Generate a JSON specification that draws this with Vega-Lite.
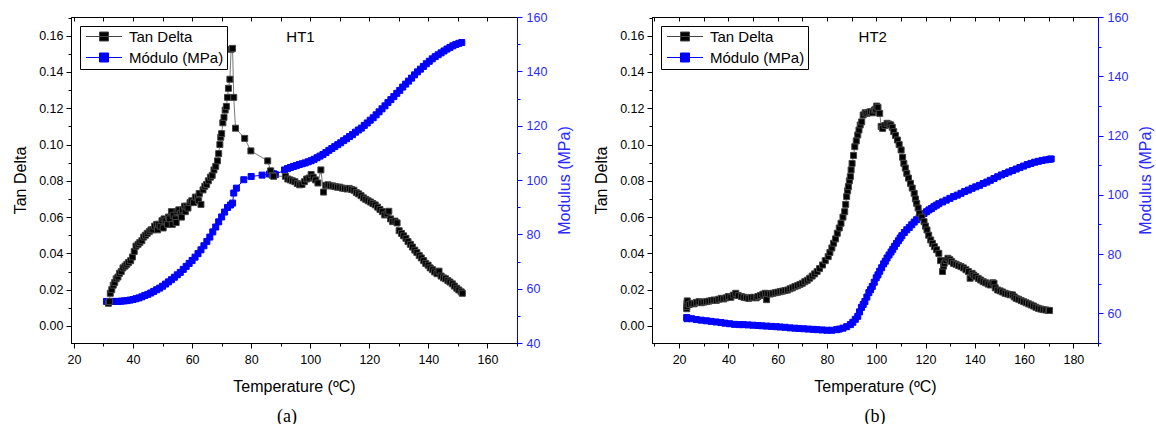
{
  "$schema": "https://vega.github.io/schema/vega-lite/v6.json",
  "padding": {"left": 12, "top": 10, "right": 5, "bottom": 5},
  "background": "white",
  "spacing": 19,
  "config": {
    "font": "Liberation Sans",
    "view": {"stroke": "#000000", "strokeWidth": 1},
    "axis": {
      "labelFont": "Liberation Sans", "titleFont": "Liberation Sans",
      "labelFontSize": 12.5, "titleFontSize": 16, "titleFontWeight": "normal",
      "grid": false, "labelOverlap": false, "labelFlush": false,
      "domainColor": "#000000", "tickColor": "#000000", "labelColor": "#000000", "titleColor": "#000000",
      "tickWidth": 1, "domainWidth": 1
    },
    "legend": {"title": null, "orient": "top-left", "offset": 9, "strokeColor": "#000000", "fillColor": "#ffffff", "padding": 3, "labelFont": "Liberation Sans", "labelFontSize": 15, "labelColor": "#000000", "symbolType": "M-1,0H7M2,-1H4V1H2Z", "symbolSize": 81, "symbolStrokeWidth": 1, "labelOffset": 31, "rowPadding": 5, "labelLimit": 300}
  },
  "resolve": {"scale": {"fill": "independent", "stroke": "independent"}},
  "datasets": {
    "tdA": [
      {"series":"Tan Delta","T":31.7,"value":0.0125},{"series":"Tan Delta","T":32.0,"value":0.0135},{"series":"Tan Delta","T":32.3,"value":0.018},{"series":"Tan Delta","T":32.8,"value":0.020},{"series":"Tan Delta","T":33.3,"value":0.0225},{"series":"Tan Delta","T":33.8,"value":0.024},{"series":"Tan Delta","T":34.3,"value":0.026},{"series":"Tan Delta","T":34.9,"value":0.027},{"series":"Tan Delta","T":35.4,"value":0.029},{"series":"Tan Delta","T":36.0,"value":0.030},{"series":"Tan Delta","T":36.6,"value":0.032},{"series":"Tan Delta","T":37.3,"value":0.033},{"series":"Tan Delta","T":37.9,"value":0.034},{"series":"Tan Delta","T":38.5,"value":0.035},{"series":"Tan Delta","T":39.2,"value":0.036},{"series":"Tan Delta","T":39.8,"value":0.038},{"series":"Tan Delta","T":40.4,"value":0.041},{"series":"Tan Delta","T":41.0,"value":0.044},{"series":"Tan Delta","T":41.7,"value":0.045},{"series":"Tan Delta","T":42.3,"value":0.046},{"series":"Tan Delta","T":43.0,"value":0.047},{"series":"Tan Delta","T":43.6,"value":0.049},{"series":"Tan Delta","T":44.2,"value":0.050},{"series":"Tan Delta","T":44.8,"value":0.051},{"series":"Tan Delta","T":45.5,"value":0.052},{"series":"Tan Delta","T":46.1,"value":0.053},{"series":"Tan Delta","T":46.7,"value":0.053},{"series":"Tan Delta","T":47.3,"value":0.055},{"series":"Tan Delta","T":48.0,"value":0.056},{"series":"Tan Delta","T":48.3,"value":0.053},{"series":"Tan Delta","T":48.6,"value":0.056},{"series":"Tan Delta","T":49.2,"value":0.055},{"series":"Tan Delta","T":49.8,"value":0.058},{"series":"Tan Delta","T":50.2,"value":0.054},{"series":"Tan Delta","T":50.5,"value":0.059},{"series":"Tan Delta","T":51.1,"value":0.058},{"series":"Tan Delta","T":51.7,"value":0.056},{"series":"Tan Delta","T":52.0,"value":0.060},{"series":"Tan Delta","T":52.4,"value":0.059},{"series":"Tan Delta","T":53.0,"value":0.063},{"series":"Tan Delta","T":53.3,"value":0.056},{"series":"Tan Delta","T":53.6,"value":0.061},{"series":"Tan Delta","T":54.3,"value":0.059},{"series":"Tan Delta","T":54.6,"value":0.057},{"series":"Tan Delta","T":54.9,"value":0.063},{"series":"Tan Delta","T":55.5,"value":0.064},{"series":"Tan Delta","T":56.1,"value":0.062},{"series":"Tan Delta","T":56.4,"value":0.060},{"series":"Tan Delta","T":56.8,"value":0.064},{"series":"Tan Delta","T":57.4,"value":0.066},{"series":"Tan Delta","T":57.7,"value":0.063},{"series":"Tan Delta","T":58.0,"value":0.066},{"series":"Tan Delta","T":58.6,"value":0.065},{"series":"Tan Delta","T":59.3,"value":0.068},{"series":"Tan Delta","T":59.9,"value":0.069},{"series":"Tan Delta","T":60.5,"value":0.068},{"series":"Tan Delta","T":61.1,"value":0.071},{"series":"Tan Delta","T":61.8,"value":0.071},{"series":"Tan Delta","T":62.1,"value":0.069},{"series":"Tan Delta","T":62.4,"value":0.073},{"series":"Tan Delta","T":63.0,"value":0.067},{"series":"Tan Delta","T":63.7,"value":0.075},{"series":"Tan Delta","T":64.3,"value":0.077},{"series":"Tan Delta","T":64.9,"value":0.078},{"series":"Tan Delta","T":65.5,"value":0.080},{"series":"Tan Delta","T":66.2,"value":0.082},{"series":"Tan Delta","T":66.8,"value":0.083},{"series":"Tan Delta","T":67.4,"value":0.086},{"series":"Tan Delta","T":68.0,"value":0.088},{"series":"Tan Delta","T":68.6,"value":0.091},{"series":"Tan Delta","T":69.0,"value":0.095},{"series":"Tan Delta","T":69.4,"value":0.100},{"series":"Tan Delta","T":69.7,"value":0.104},{"series":"Tan Delta","T":70.0,"value":0.106},{"series":"Tan Delta","T":70.4,"value":0.112},{"series":"Tan Delta","T":70.8,"value":0.115},{"series":"Tan Delta","T":71.2,"value":0.119},{"series":"Tan Delta","T":71.6,"value":0.121},{"series":"Tan Delta","T":72.0,"value":0.126},{"series":"Tan Delta","T":72.3,"value":0.131},{"series":"Tan Delta","T":72.8,"value":0.136},{"series":"Tan Delta","T":73.2,"value":0.1525},{"series":"Tan Delta","T":73.7,"value":0.153},{"series":"Tan Delta","T":74.1,"value":0.126},{"series":"Tan Delta","T":74.7,"value":0.109},{"series":"Tan Delta","T":77.8,"value":0.1034},{"series":"Tan Delta","T":79.9,"value":0.0965},{"series":"Tan Delta","T":85.6,"value":0.091},{"series":"Tan Delta","T":86.6,"value":0.0855},{"series":"Tan Delta","T":87.2,"value":0.083},{"series":"Tan Delta","T":87.6,"value":0.0825},{"series":"Tan Delta","T":91.6,"value":0.0825},{"series":"Tan Delta","T":92.4,"value":0.081},{"series":"Tan Delta","T":93.2,"value":0.0805},{"series":"Tan Delta","T":94.0,"value":0.080},{"series":"Tan Delta","T":94.8,"value":0.0795},{"series":"Tan Delta","T":95.6,"value":0.0785},{"series":"Tan Delta","T":96.4,"value":0.0778},{"series":"Tan Delta","T":97.2,"value":0.078},{"series":"Tan Delta","T":98.0,"value":0.0795},{"series":"Tan Delta","T":98.8,"value":0.081},{"series":"Tan Delta","T":99.6,"value":0.0815},{"series":"Tan Delta","T":100.3,"value":0.0835},{"series":"Tan Delta","T":101.0,"value":0.082},{"series":"Tan Delta","T":101.8,"value":0.0805},{"series":"Tan Delta","T":102.6,"value":0.0788},{"series":"Tan Delta","T":103.6,"value":0.086},{"series":"Tan Delta","T":104.5,"value":0.0738},{"series":"Tan Delta","T":105.3,"value":0.0775},{"series":"Tan Delta","T":106.0,"value":0.0778},{"series":"Tan Delta","T":106.8,"value":0.0772},{"series":"Tan Delta","T":107.6,"value":0.0772},{"series":"Tan Delta","T":108.4,"value":0.0768},{"series":"Tan Delta","T":109.2,"value":0.0765},{"series":"Tan Delta","T":110.0,"value":0.0765},{"series":"Tan Delta","T":110.8,"value":0.076},{"series":"Tan Delta","T":111.6,"value":0.0758},{"series":"Tan Delta","T":112.4,"value":0.0755},{"series":"Tan Delta","T":113.2,"value":0.0758},{"series":"Tan Delta","T":114.0,"value":0.0752},{"series":"Tan Delta","T":114.8,"value":0.0748},{"series":"Tan Delta","T":115.6,"value":0.0735},{"series":"Tan Delta","T":116.4,"value":0.0728},{"series":"Tan Delta","T":117.2,"value":0.0718},{"series":"Tan Delta","T":118.0,"value":0.0706},{"series":"Tan Delta","T":118.8,"value":0.0698},{"series":"Tan Delta","T":119.6,"value":0.069},{"series":"Tan Delta","T":120.4,"value":0.0683},{"series":"Tan Delta","T":121.2,"value":0.0675},{"series":"Tan Delta","T":122.0,"value":0.0667},{"series":"Tan Delta","T":122.8,"value":0.0655},{"series":"Tan Delta","T":123.6,"value":0.0642},{"series":"Tan Delta","T":124.4,"value":0.063},{"series":"Tan Delta","T":125.2,"value":0.0612},{"series":"Tan Delta","T":126.0,"value":0.0618},{"series":"Tan Delta","T":126.6,"value":0.0632},{"series":"Tan Delta","T":127.2,"value":0.059},{"series":"Tan Delta","T":127.9,"value":0.0575},{"series":"Tan Delta","T":128.7,"value":0.0578},{"series":"Tan Delta","T":129.4,"value":0.0568},{"series":"Tan Delta","T":130.1,"value":0.0525},{"series":"Tan Delta","T":130.9,"value":0.051},{"series":"Tan Delta","T":131.6,"value":0.0497},{"series":"Tan Delta","T":132.4,"value":0.0483},{"series":"Tan Delta","T":133.1,"value":0.0465},{"series":"Tan Delta","T":133.9,"value":0.045},{"series":"Tan Delta","T":134.6,"value":0.0435},{"series":"Tan Delta","T":135.4,"value":0.0418},{"series":"Tan Delta","T":136.1,"value":0.0405},{"series":"Tan Delta","T":136.9,"value":0.0388},{"series":"Tan Delta","T":137.6,"value":0.0375},{"series":"Tan Delta","T":138.4,"value":0.036},{"series":"Tan Delta","T":139.1,"value":0.0345},{"series":"Tan Delta","T":139.9,"value":0.0335},{"series":"Tan Delta","T":140.6,"value":0.032},{"series":"Tan Delta","T":141.4,"value":0.031},{"series":"Tan Delta","T":142.1,"value":0.0298},{"series":"Tan Delta","T":142.9,"value":0.0288},{"series":"Tan Delta","T":143.6,"value":0.0302},{"series":"Tan Delta","T":144.3,"value":0.0275},{"series":"Tan Delta","T":145.1,"value":0.0265},{"series":"Tan Delta","T":145.8,"value":0.026},{"series":"Tan Delta","T":146.6,"value":0.025},{"series":"Tan Delta","T":147.3,"value":0.0242},{"series":"Tan Delta","T":148.1,"value":0.0232},{"series":"Tan Delta","T":148.8,"value":0.022},{"series":"Tan Delta","T":149.6,"value":0.0208},{"series":"Tan Delta","T":150.3,"value":0.0198},{"series":"Tan Delta","T":151.1,"value":0.0188},{"series":"Tan Delta","T":151.5,"value":0.018}
    ],
    "modA": [
      {"series":"Módulo (MPa)","T":31.0,"value":55.3},{"series":"Módulo (MPa)","T":32.0,"value":55.3},{"series":"Módulo (MPa)","T":33.0,"value":55.3},{"series":"Módulo (MPa)","T":34.0,"value":55.3},{"series":"Módulo (MPa)","T":35.0,"value":55.3},{"series":"Módulo (MPa)","T":36.0,"value":55.4},{"series":"Módulo (MPa)","T":37.0,"value":55.5},{"series":"Módulo (MPa)","T":38.0,"value":55.6},{"series":"Módulo (MPa)","T":39.0,"value":55.8},{"series":"Módulo (MPa)","T":40.0,"value":56.0},{"series":"Módulo (MPa)","T":41.0,"value":56.3},{"series":"Módulo (MPa)","T":42.0,"value":56.6},{"series":"Módulo (MPa)","T":43.0,"value":57.0},{"series":"Módulo (MPa)","T":44.0,"value":57.5},{"series":"Módulo (MPa)","T":45.0,"value":57.9},{"series":"Módulo (MPa)","T":46.0,"value":58.4},{"series":"Módulo (MPa)","T":47.0,"value":59.0},{"series":"Módulo (MPa)","T":48.0,"value":59.6},{"series":"Módulo (MPa)","T":49.0,"value":60.2},{"series":"Módulo (MPa)","T":50.0,"value":60.9},{"series":"Módulo (MPa)","T":51.0,"value":61.7},{"series":"Módulo (MPa)","T":52.0,"value":62.5},{"series":"Módulo (MPa)","T":53.0,"value":63.3},{"series":"Módulo (MPa)","T":54.0,"value":64.2},{"series":"Módulo (MPa)","T":55.0,"value":65.1},{"series":"Módulo (MPa)","T":56.0,"value":66.0},{"series":"Módulo (MPa)","T":57.0,"value":67.1},{"series":"Módulo (MPa)","T":58.0,"value":68.2},{"series":"Módulo (MPa)","T":59.0,"value":69.3},{"series":"Módulo (MPa)","T":60.0,"value":70.4},{"series":"Módulo (MPa)","T":61.0,"value":71.6},{"series":"Módulo (MPa)","T":62.0,"value":72.9},{"series":"Módulo (MPa)","T":63.0,"value":74.3},{"series":"Módulo (MPa)","T":64.0,"value":75.8},{"series":"Módulo (MPa)","T":65.0,"value":77.4},{"series":"Módulo (MPa)","T":66.0,"value":79.0},{"series":"Módulo (MPa)","T":67.0,"value":80.9},{"series":"Módulo (MPa)","T":68.0,"value":82.7},{"series":"Módulo (MPa)","T":69.0,"value":84.6},{"series":"Módulo (MPa)","T":70.0,"value":86.4},{"series":"Módulo (MPa)","T":71.0,"value":88.2},{"series":"Módulo (MPa)","T":72.0,"value":89.9},{"series":"Módulo (MPa)","T":73.0,"value":90.8},{"series":"Módulo (MPa)","T":73.7,"value":91.5},{"series":"Módulo (MPa)","T":74.1,"value":95.2},{"series":"Módulo (MPa)","T":75.0,"value":97.0},{"series":"Módulo (MPa)","T":77.5,"value":100.1},{"series":"Módulo (MPa)","T":80.0,"value":101.3},{"series":"Módulo (MPa)","T":83.7,"value":101.8},{"series":"Módulo (MPa)","T":86.2,"value":102.2},{"series":"Módulo (MPa)","T":86.9,"value":102.4},{"series":"Módulo (MPa)","T":87.6,"value":102.3},{"series":"Módulo (MPa)","T":88.2,"value":102.0},{"series":"Módulo (MPa)","T":91.3,"value":103.7},{"series":"Módulo (MPa)","T":92.3,"value":104.2},{"series":"Módulo (MPa)","T":93.3,"value":104.6},{"series":"Módulo (MPa)","T":94.3,"value":105.0},{"series":"Módulo (MPa)","T":95.3,"value":105.3},{"series":"Módulo (MPa)","T":96.3,"value":105.7},{"series":"Módulo (MPa)","T":97.3,"value":106.0},{"series":"Módulo (MPa)","T":98.3,"value":106.3},{"series":"Módulo (MPa)","T":99.3,"value":106.7},{"series":"Módulo (MPa)","T":100.3,"value":107.1},{"series":"Módulo (MPa)","T":101.3,"value":107.6},{"series":"Módulo (MPa)","T":102.3,"value":108.2},{"series":"Módulo (MPa)","T":103.3,"value":108.8},{"series":"Módulo (MPa)","T":104.3,"value":109.4},{"series":"Módulo (MPa)","T":105.3,"value":110.1},{"series":"Módulo (MPa)","T":106.3,"value":110.9},{"series":"Módulo (MPa)","T":107.3,"value":111.6},{"series":"Módulo (MPa)","T":108.3,"value":112.3},{"series":"Módulo (MPa)","T":109.3,"value":113.0},{"series":"Módulo (MPa)","T":110.3,"value":113.7},{"series":"Módulo (MPa)","T":111.3,"value":114.5},{"series":"Módulo (MPa)","T":112.3,"value":115.2},{"series":"Módulo (MPa)","T":113.3,"value":116.0},{"series":"Módulo (MPa)","T":114.3,"value":116.7},{"series":"Módulo (MPa)","T":115.3,"value":117.6},{"series":"Módulo (MPa)","T":116.3,"value":118.4},{"series":"Módulo (MPa)","T":117.3,"value":119.1},{"series":"Módulo (MPa)","T":118.3,"value":120.1},{"series":"Módulo (MPa)","T":119.3,"value":121.0},{"series":"Módulo (MPa)","T":120.3,"value":122.0},{"series":"Módulo (MPa)","T":121.3,"value":122.9},{"series":"Módulo (MPa)","T":122.3,"value":124.0},{"series":"Módulo (MPa)","T":123.3,"value":125.1},{"series":"Módulo (MPa)","T":124.3,"value":126.2},{"series":"Módulo (MPa)","T":125.3,"value":127.3},{"series":"Módulo (MPa)","T":126.3,"value":128.5},{"series":"Módulo (MPa)","T":127.3,"value":129.6},{"series":"Módulo (MPa)","T":128.3,"value":130.7},{"series":"Módulo (MPa)","T":129.3,"value":131.9},{"series":"Módulo (MPa)","T":130.3,"value":133.0},{"series":"Módulo (MPa)","T":131.3,"value":134.2},{"series":"Módulo (MPa)","T":132.3,"value":135.3},{"series":"Módulo (MPa)","T":133.3,"value":136.4},{"series":"Módulo (MPa)","T":134.3,"value":137.5},{"series":"Módulo (MPa)","T":135.3,"value":138.7},{"series":"Módulo (MPa)","T":136.3,"value":139.8},{"series":"Módulo (MPa)","T":137.3,"value":140.8},{"series":"Módulo (MPa)","T":138.3,"value":141.8},{"series":"Módulo (MPa)","T":139.3,"value":142.8},{"series":"Módulo (MPa)","T":140.3,"value":143.7},{"series":"Módulo (MPa)","T":141.3,"value":144.6},{"series":"Módulo (MPa)","T":142.3,"value":145.4},{"series":"Módulo (MPa)","T":143.3,"value":146.1},{"series":"Módulo (MPa)","T":144.3,"value":146.8},{"series":"Módulo (MPa)","T":145.3,"value":147.5},{"series":"Módulo (MPa)","T":146.3,"value":148.2},{"series":"Módulo (MPa)","T":147.3,"value":148.8},{"series":"Módulo (MPa)","T":148.3,"value":149.4},{"series":"Módulo (MPa)","T":149.3,"value":149.9},{"series":"Módulo (MPa)","T":150.3,"value":150.3},{"series":"Módulo (MPa)","T":151.3,"value":150.6}
    ],
    "tdB": [
      {"series":"Tan Delta","T":23.1,"value":0.0095},{"series":"Tan Delta","T":23.1,"value":0.0107},{"series":"Tan Delta","T":23.2,"value":0.0125},{"series":"Tan Delta","T":23.3,"value":0.0138},{"series":"Tan Delta","T":24.1,"value":0.0118},{"series":"Tan Delta","T":25.1,"value":0.0125},{"series":"Tan Delta","T":26.1,"value":0.0122},{"series":"Tan Delta","T":27.1,"value":0.013},{"series":"Tan Delta","T":28.1,"value":0.0134},{"series":"Tan Delta","T":29.1,"value":0.0128},{"series":"Tan Delta","T":30.1,"value":0.0132},{"series":"Tan Delta","T":31.1,"value":0.0134},{"series":"Tan Delta","T":32.1,"value":0.0137},{"series":"Tan Delta","T":33.1,"value":0.014},{"series":"Tan Delta","T":34.1,"value":0.0143},{"series":"Tan Delta","T":35.1,"value":0.0141},{"series":"Tan Delta","T":36.1,"value":0.0147},{"series":"Tan Delta","T":37.1,"value":0.0152},{"series":"Tan Delta","T":38.1,"value":0.0149},{"series":"Tan Delta","T":39.1,"value":0.0155},{"series":"Tan Delta","T":40.0,"value":0.0162},{"series":"Tan Delta","T":41.0,"value":0.0158},{"series":"Tan Delta","T":42.0,"value":0.017},{"series":"Tan Delta","T":43.0,"value":0.018},{"series":"Tan Delta","T":44.0,"value":0.0168},{"series":"Tan Delta","T":45.3,"value":0.0162},{"series":"Tan Delta","T":46.3,"value":0.0158},{"series":"Tan Delta","T":47.3,"value":0.0155},{"series":"Tan Delta","T":48.3,"value":0.0152},{"series":"Tan Delta","T":49.3,"value":0.0156},{"series":"Tan Delta","T":50.3,"value":0.0158},{"series":"Tan Delta","T":51.3,"value":0.0155},{"series":"Tan Delta","T":52.0,"value":0.0162},{"series":"Tan Delta","T":53.0,"value":0.0168},{"series":"Tan Delta","T":54.0,"value":0.0175},{"series":"Tan Delta","T":55.0,"value":0.018},{"series":"Tan Delta","T":55.5,"value":0.0145},{"series":"Tan Delta","T":56.0,"value":0.0178},{"series":"Tan Delta","T":57.0,"value":0.0176},{"series":"Tan Delta","T":58.0,"value":0.018},{"series":"Tan Delta","T":59.0,"value":0.0183},{"series":"Tan Delta","T":60.0,"value":0.0186},{"series":"Tan Delta","T":61.0,"value":0.0189},{"series":"Tan Delta","T":62.0,"value":0.0192},{"series":"Tan Delta","T":63.0,"value":0.0195},{"series":"Tan Delta","T":64.0,"value":0.0198},{"series":"Tan Delta","T":65.0,"value":0.0205},{"series":"Tan Delta","T":66.0,"value":0.021},{"series":"Tan Delta","T":67.0,"value":0.0217},{"series":"Tan Delta","T":68.0,"value":0.0222},{"series":"Tan Delta","T":69.0,"value":0.0228},{"series":"Tan Delta","T":70.0,"value":0.0235},{"series":"Tan Delta","T":71.0,"value":0.0244},{"series":"Tan Delta","T":72.0,"value":0.0252},{"series":"Tan Delta","T":73.0,"value":0.0263},{"series":"Tan Delta","T":74.0,"value":0.0275},{"series":"Tan Delta","T":75.0,"value":0.0287},{"series":"Tan Delta","T":76.0,"value":0.030},{"series":"Tan Delta","T":77.0,"value":0.0316},{"series":"Tan Delta","T":78.2,"value":0.0336},{"series":"Tan Delta","T":79.3,"value":0.036},{"series":"Tan Delta","T":80.5,"value":0.0382},{"series":"Tan Delta","T":81.2,"value":0.0405},{"series":"Tan Delta","T":82.0,"value":0.043},{"series":"Tan Delta","T":82.7,"value":0.0456},{"series":"Tan Delta","T":83.5,"value":0.048},{"series":"Tan Delta","T":84.2,"value":0.0511},{"series":"Tan Delta","T":85.0,"value":0.054},{"series":"Tan Delta","T":85.7,"value":0.0566},{"series":"Tan Delta","T":86.5,"value":0.060},{"series":"Tan Delta","T":87.2,"value":0.063},{"series":"Tan Delta","T":87.6,"value":0.067},{"series":"Tan Delta","T":88.0,"value":0.0713},{"series":"Tan Delta","T":88.4,"value":0.0745},{"series":"Tan Delta","T":88.7,"value":0.0768},{"series":"Tan Delta","T":89.1,"value":0.080},{"series":"Tan Delta","T":89.5,"value":0.0823},{"series":"Tan Delta","T":89.8,"value":0.086},{"series":"Tan Delta","T":90.2,"value":0.0896},{"series":"Tan Delta","T":90.8,"value":0.094},{"series":"Tan Delta","T":91.3,"value":0.0988},{"series":"Tan Delta","T":91.9,"value":0.102},{"series":"Tan Delta","T":92.5,"value":0.1053},{"series":"Tan Delta","T":93.0,"value":0.108},{"series":"Tan Delta","T":93.5,"value":0.1108},{"series":"Tan Delta","T":94.1,"value":0.1125},{"series":"Tan Delta","T":94.7,"value":0.1163},{"series":"Tan Delta","T":95.5,"value":0.1175},{"series":"Tan Delta","T":96.2,"value":0.1172},{"series":"Tan Delta","T":97.0,"value":0.1178},{"series":"Tan Delta","T":97.7,"value":0.1181},{"series":"Tan Delta","T":98.5,"value":0.1175},{"series":"Tan Delta","T":99.2,"value":0.119},{"series":"Tan Delta","T":99.7,"value":0.1195},{"series":"Tan Delta","T":100.2,"value":0.1212},{"series":"Tan Delta","T":100.7,"value":0.1205},{"series":"Tan Delta","T":101.4,"value":0.1172},{"series":"Tan Delta","T":102.0,"value":0.110},{"series":"Tan Delta","T":102.6,"value":0.1089},{"series":"Tan Delta","T":103.5,"value":0.1105},{"series":"Tan Delta","T":104.4,"value":0.1117},{"series":"Tan Delta","T":105.2,"value":0.1112},{"series":"Tan Delta","T":105.9,"value":0.1108},{"series":"Tan Delta","T":106.5,"value":0.1095},{"series":"Tan Delta","T":107.1,"value":0.1071},{"series":"Tan Delta","T":107.8,"value":0.105},{"series":"Tan Delta","T":108.6,"value":0.1025},{"series":"Tan Delta","T":109.3,"value":0.100},{"series":"Tan Delta","T":110.1,"value":0.097},{"series":"Tan Delta","T":110.7,"value":0.093},{"series":"Tan Delta","T":111.2,"value":0.0896},{"series":"Tan Delta","T":111.8,"value":0.087},{"series":"Tan Delta","T":112.4,"value":0.0841},{"series":"Tan Delta","T":113.1,"value":0.0815},{"series":"Tan Delta","T":113.9,"value":0.0786},{"series":"Tan Delta","T":114.6,"value":0.076},{"series":"Tan Delta","T":115.4,"value":0.0731},{"series":"Tan Delta","T":115.9,"value":0.070},{"series":"Tan Delta","T":116.4,"value":0.0676},{"series":"Tan Delta","T":117.0,"value":0.065},{"series":"Tan Delta","T":117.6,"value":0.0621},{"series":"Tan Delta","T":118.5,"value":0.060},{"series":"Tan Delta","T":119.4,"value":0.0575},{"series":"Tan Delta","T":120.0,"value":0.055},{"series":"Tan Delta","T":120.6,"value":0.0529},{"series":"Tan Delta","T":121.3,"value":0.050},{"series":"Tan Delta","T":122.1,"value":0.0474},{"series":"Tan Delta","T":122.8,"value":0.0455},{"series":"Tan Delta","T":123.6,"value":0.0437},{"series":"Tan Delta","T":124.5,"value":0.042},{"series":"Tan Delta","T":125.4,"value":0.040},{"series":"Tan Delta","T":126.1,"value":0.036},{"series":"Tan Delta","T":126.9,"value":0.030},{"series":"Tan Delta","T":127.3,"value":0.033},{"series":"Tan Delta","T":127.6,"value":0.0345},{"series":"Tan Delta","T":128.3,"value":0.036},{"series":"Tan Delta","T":129.1,"value":0.0373},{"series":"Tan Delta","T":129.9,"value":0.0365},{"series":"Tan Delta","T":130.6,"value":0.0355},{"series":"Tan Delta","T":131.4,"value":0.0345},{"series":"Tan Delta","T":132.4,"value":0.034},{"series":"Tan Delta","T":133.4,"value":0.0333},{"series":"Tan Delta","T":134.4,"value":0.0327},{"series":"Tan Delta","T":135.4,"value":0.032},{"series":"Tan Delta","T":136.4,"value":0.031},{"series":"Tan Delta","T":137.4,"value":0.030},{"series":"Tan Delta","T":138.1,"value":0.0263},{"series":"Tan Delta","T":138.9,"value":0.029},{"series":"Tan Delta","T":139.6,"value":0.028},{"series":"Tan Delta","T":140.4,"value":0.0272},{"series":"Tan Delta","T":141.4,"value":0.0262},{"series":"Tan Delta","T":142.4,"value":0.0253},{"series":"Tan Delta","T":143.4,"value":0.0244},{"series":"Tan Delta","T":144.4,"value":0.0238},{"series":"Tan Delta","T":145.4,"value":0.0231},{"series":"Tan Delta","T":146.3,"value":0.0226},{"series":"Tan Delta","T":147.3,"value":0.0238},{"series":"Tan Delta","T":147.8,"value":0.0235},{"series":"Tan Delta","T":148.3,"value":0.021},{"series":"Tan Delta","T":149.3,"value":0.0198},{"series":"Tan Delta","T":150.3,"value":0.0193},{"series":"Tan Delta","T":151.3,"value":0.0187},{"series":"Tan Delta","T":152.3,"value":0.018},{"series":"Tan Delta","T":153.3,"value":0.0176},{"series":"Tan Delta","T":154.3,"value":0.0172},{"series":"Tan Delta","T":155.3,"value":0.0171},{"series":"Tan Delta","T":156.0,"value":0.016},{"series":"Tan Delta","T":156.8,"value":0.0152},{"series":"Tan Delta","T":157.8,"value":0.0147},{"series":"Tan Delta","T":158.8,"value":0.014},{"series":"Tan Delta","T":159.8,"value":0.0134},{"series":"Tan Delta","T":160.8,"value":0.0128},{"series":"Tan Delta","T":161.8,"value":0.0122},{"series":"Tan Delta","T":162.8,"value":0.0116},{"series":"Tan Delta","T":163.8,"value":0.011},{"series":"Tan Delta","T":164.8,"value":0.0103},{"series":"Tan Delta","T":165.8,"value":0.0097},{"series":"Tan Delta","T":166.8,"value":0.0093},{"series":"Tan Delta","T":167.8,"value":0.009},{"series":"Tan Delta","T":168.8,"value":0.0088},{"series":"Tan Delta","T":169.8,"value":0.0086},{"series":"Tan Delta","T":170.3,"value":0.0085}
    ],
    "modB": [
      {"series":"Módulo (MPa)","T":23.1,"value":58.6},{"series":"Módulo (MPa)","T":23.2,"value":58.2},{"series":"Módulo (MPa)","T":25.0,"value":58.2},{"series":"Módulo (MPa)","T":27.0,"value":57.9},{"series":"Módulo (MPa)","T":29.0,"value":57.7},{"series":"Módulo (MPa)","T":31.1,"value":57.5},{"series":"Módulo (MPa)","T":33.0,"value":57.3},{"series":"Módulo (MPa)","T":35.0,"value":57.1},{"series":"Módulo (MPa)","T":37.0,"value":56.9},{"series":"Módulo (MPa)","T":38.6,"value":56.7},{"series":"Módulo (MPa)","T":40.5,"value":56.5},{"series":"Módulo (MPa)","T":42.5,"value":56.3},{"series":"Módulo (MPa)","T":44.5,"value":56.2},{"series":"Módulo (MPa)","T":46.0,"value":56.2},{"series":"Módulo (MPa)","T":48.0,"value":56.1},{"series":"Módulo (MPa)","T":50.0,"value":56.0},{"series":"Módulo (MPa)","T":52.0,"value":55.9},{"series":"Módulo (MPa)","T":53.5,"value":55.8},{"series":"Módulo (MPa)","T":55.5,"value":55.7},{"series":"Módulo (MPa)","T":57.5,"value":55.6},{"series":"Módulo (MPa)","T":59.5,"value":55.5},{"series":"Módulo (MPa)","T":61.0,"value":55.4},{"series":"Módulo (MPa)","T":63.0,"value":55.3},{"series":"Módulo (MPa)","T":65.0,"value":55.1},{"series":"Módulo (MPa)","T":67.0,"value":55.0},{"series":"Módulo (MPa)","T":68.5,"value":54.9},{"series":"Módulo (MPa)","T":70.5,"value":54.8},{"series":"Módulo (MPa)","T":72.5,"value":54.7},{"series":"Módulo (MPa)","T":74.5,"value":54.6},{"series":"Módulo (MPa)","T":76.0,"value":54.5},{"series":"Módulo (MPa)","T":78.0,"value":54.4},{"series":"Módulo (MPa)","T":80.0,"value":54.3},{"series":"Módulo (MPa)","T":82.0,"value":54.3},{"series":"Módulo (MPa)","T":84.0,"value":54.5},{"series":"Módulo (MPa)","T":85.0,"value":54.7},{"series":"Módulo (MPa)","T":86.5,"value":55.0},{"series":"Módulo (MPa)","T":88.0,"value":55.5},{"series":"Módulo (MPa)","T":89.5,"value":56.2},{"series":"Módulo (MPa)","T":90.5,"value":57.0},{"series":"Módulo (MPa)","T":91.5,"value":58.0},{"series":"Módulo (MPa)","T":92.5,"value":59.0},{"series":"Módulo (MPa)","T":93.2,"value":60.5},{"series":"Módulo (MPa)","T":94.0,"value":62.0},{"series":"Módulo (MPa)","T":94.7,"value":63.0},{"series":"Módulo (MPa)","T":95.4,"value":64.0},{"series":"Módulo (MPa)","T":96.2,"value":65.5},{"series":"Módulo (MPa)","T":97.0,"value":67.0},{"series":"Módulo (MPa)","T":97.7,"value":68.0},{"series":"Módulo (MPa)","T":98.4,"value":69.1},{"series":"Módulo (MPa)","T":99.2,"value":70.5},{"series":"Módulo (MPa)","T":100.0,"value":72.0},{"series":"Módulo (MPa)","T":100.7,"value":73.0},{"series":"Módulo (MPa)","T":101.4,"value":74.2},{"series":"Módulo (MPa)","T":102.2,"value":75.4},{"series":"Módulo (MPa)","T":103.0,"value":76.7},{"series":"Módulo (MPa)","T":103.7,"value":77.6},{"series":"Módulo (MPa)","T":104.4,"value":78.7},{"series":"Módulo (MPa)","T":105.2,"value":79.7},{"series":"Módulo (MPa)","T":106.0,"value":80.7},{"series":"Módulo (MPa)","T":106.7,"value":81.6},{"series":"Módulo (MPa)","T":107.4,"value":82.6},{"series":"Módulo (MPa)","T":108.2,"value":83.6},{"series":"Módulo (MPa)","T":109.0,"value":84.5},{"series":"Módulo (MPa)","T":109.7,"value":85.4},{"series":"Módulo (MPa)","T":110.4,"value":86.2},{"series":"Módulo (MPa)","T":111.4,"value":87.3},{"series":"Módulo (MPa)","T":112.4,"value":88.2},{"series":"Módulo (MPa)","T":113.4,"value":89.0},{"series":"Módulo (MPa)","T":114.4,"value":89.9},{"series":"Módulo (MPa)","T":115.4,"value":90.8},{"series":"Módulo (MPa)","T":116.4,"value":91.6},{"series":"Módulo (MPa)","T":117.4,"value":92.3},{"series":"Módulo (MPa)","T":118.4,"value":93.0},{"series":"Módulo (MPa)","T":119.4,"value":93.7},{"series":"Módulo (MPa)","T":120.4,"value":94.3},{"series":"Módulo (MPa)","T":121.4,"value":94.9},{"series":"Módulo (MPa)","T":122.4,"value":95.4},{"series":"Módulo (MPa)","T":123.4,"value":96.0},{"series":"Módulo (MPa)","T":124.4,"value":96.5},{"series":"Módulo (MPa)","T":125.4,"value":97.0},{"series":"Módulo (MPa)","T":126.9,"value":97.6},{"series":"Módulo (MPa)","T":128.4,"value":98.2},{"series":"Módulo (MPa)","T":129.9,"value":98.8},{"series":"Módulo (MPa)","T":131.4,"value":99.4},{"series":"Módulo (MPa)","T":132.9,"value":99.9},{"series":"Módulo (MPa)","T":134.4,"value":100.5},{"series":"Módulo (MPa)","T":135.9,"value":101.1},{"series":"Módulo (MPa)","T":137.4,"value":101.6},{"series":"Módulo (MPa)","T":138.9,"value":102.2},{"series":"Módulo (MPa)","T":140.4,"value":102.7},{"series":"Módulo (MPa)","T":141.9,"value":103.2},{"series":"Módulo (MPa)","T":143.4,"value":103.8},{"series":"Módulo (MPa)","T":144.9,"value":104.3},{"series":"Módulo (MPa)","T":146.3,"value":104.9},{"series":"Módulo (MPa)","T":147.8,"value":105.5},{"series":"Módulo (MPa)","T":149.3,"value":106.1},{"series":"Módulo (MPa)","T":150.8,"value":106.7},{"series":"Módulo (MPa)","T":152.3,"value":107.2},{"series":"Módulo (MPa)","T":153.8,"value":107.7},{"series":"Módulo (MPa)","T":155.3,"value":108.2},{"series":"Módulo (MPa)","T":156.8,"value":108.7},{"series":"Módulo (MPa)","T":158.3,"value":109.2},{"series":"Módulo (MPa)","T":159.8,"value":109.7},{"series":"Módulo (MPa)","T":161.3,"value":110.2},{"series":"Módulo (MPa)","T":162.8,"value":110.6},{"series":"Módulo (MPa)","T":164.3,"value":111.0},{"series":"Módulo (MPa)","T":165.8,"value":111.3},{"series":"Módulo (MPa)","T":167.3,"value":111.6},{"series":"Módulo (MPa)","T":168.8,"value":111.8},{"series":"Módulo (MPa)","T":170.3,"value":112.0},{"series":"Módulo (MPa)","T":171.0,"value":112.1}
    ]
  },
  "hconcat": [
    {
      "width": 446, "height": 326,
      "title": {"text": "(a)", "orient": "bottom", "font": "Liberation Serif", "fontSize": 18, "fontWeight": "normal", "color": "#000000", "frame": "group", "anchor": "middle", "offset": 13, "dx": -7},
      "resolve": {"scale": {"y": "independent"}, "axis": {"x": "independent", "y": "independent"}},
      "layer": [
        {
          "data": {"name": "modA"},
          "resolve": {"axis": {"x": "independent", "y": "independent"}},
          "layer": [
            {"mark": {"type": "line", "color": "#0000ff", "strokeWidth": 1},
             "encoding": {
               "x": {"field": "T", "type": "quantitative", "scale": {"domain": [19, 170], "nice": false, "zero": false},
                     "axis": {"orient": "top", "title": null, "labels": false, "domain": false, "values": [20,30,40,50,60,70,80,90,100,110,120,130,140,150,160,170], "tickSize": -4}},
               "y": {"field": "value", "type": "quantitative", "scale": {"domain": [40, 160], "nice": false, "zero": false},
                     "axis": {"orient": "right", "title": "Modulus (MPa)", "values": [40,60,80,100,120,140,160],
                              "tickSize": 5, "labelPadding": 4, "titlePadding": 10, "titleAngle": 270, "titleBaseline": "top",
                              "domainColor": "#0000ff", "tickColor": "#0000ff", "labelColor": "#2a2aff", "titleColor": "#2a2aff"}}
             }},
            {"mark": {"type": "point", "shape": "square", "filled": true, "size": 36, "opacity": 1, "strokeWidth": 1},
             "encoding": {
               "x": {"field": "T", "type": "quantitative", "scale": {"domain": [19, 170], "nice": false, "zero": false}, "axis": null},
               "y": {"field": "value", "type": "quantitative", "scale": {"domain": [40, 160], "nice": false, "zero": false},
                     "axis": {"orient": "right", "title": null, "labels": false, "domain": false, "values": [50,70,90,110,130,150], "tickSize": 3, "tickColor": "#0000ff"}},
               "fill": {"field": "series", "type": "nominal", "scale": {"domain": ["Tan Delta", "Módulo (MPa)"], "range": ["#000000", "#0000ff"]}},
               "stroke": {"field": "series", "type": "nominal", "scale": {"domain": ["Tan Delta", "Módulo (MPa)"], "range": ["#444444", "#0000ff"]}}
             }}
          ]
        },
        {
          "resolve": {"axis": {"x": "independent", "y": "independent"}},
          "layer": [
            {"data": {"name": "tdA"},
             "mark": {"type": "line", "color": "#555555", "strokeWidth": 0.8},
             "encoding": {
               "x": {"field": "T", "type": "quantitative", "scale": {"domain": [19, 170], "nice": false, "zero": false},
                     "axis": {"orient": "bottom", "title": "Temperature (ºC)", "values": [20,40,60,80,100,120,140,160], "tickSize": 5, "labelPadding": 5, "titlePadding": 13}},
               "y": {"field": "value", "type": "quantitative", "scale": {"domain": [-0.0094, 0.1703], "nice": false, "zero": false},
                     "axis": {"orient": "left", "title": "Tan Delta", "values": [0,0.02,0.04,0.06,0.08,0.1,0.12,0.14,0.16], "format": ".2f", "tickSize": 5, "labelPadding": 3, "titlePadding": 10}}
             }},
            {"data": {"name": "tdA"},
             "mark": {"type": "point", "shape": "square", "filled": true, "size": 36, "opacity": 1, "strokeWidth": 1},
             "encoding": {
               "x": {"field": "T", "type": "quantitative", "scale": {"domain": [19, 170], "nice": false, "zero": false},
                     "axis": {"orient": "bottom", "title": null, "labels": false, "domain": false, "values": [30,50,70,90,110,130,150,170], "tickSize": 3}},
               "y": {"field": "value", "type": "quantitative", "scale": {"domain": [-0.0094, 0.1703], "nice": false, "zero": false},
                     "axis": {"orient": "left", "title": null, "labels": false, "domain": false, "values": [0.01,0.03,0.05,0.07,0.09,0.11,0.13,0.15,0.17], "tickSize": 3}},
               "fill": {"field": "series", "type": "nominal", "scale": {"domain": ["Tan Delta", "Módulo (MPa)"], "range": ["#000000", "#0000ff"]}},
               "stroke": {"field": "series", "type": "nominal", "scale": {"domain": ["Tan Delta", "Módulo (MPa)"], "range": ["#444444", "#0000ff"]}}
             }},
            {"data": {"values": [{"label": "HT1", "T": 96.7, "value": 0.159}]},
             "mark": {"type": "text", "font": "Liberation Sans", "fontSize": 15, "color": "#000000", "align": "center", "baseline": "middle"},
             "encoding": {
               "x": {"field": "T", "type": "quantitative", "scale": {"domain": [19, 170], "nice": false, "zero": false}, "axis": null},
               "y": {"field": "value", "type": "quantitative", "scale": {"domain": [-0.0094, 0.1703], "nice": false, "zero": false}, "axis": null},
               "text": {"field": "label"}
             }}
          ]
        }
      ]
    },
    {
      "width": 446, "height": 326,
      "title": {"text": "(b)", "orient": "bottom", "font": "Liberation Serif", "fontSize": 18, "fontWeight": "normal", "color": "#000000", "frame": "group", "anchor": "middle", "offset": 13},
      "resolve": {"scale": {"y": "independent"}, "axis": {"x": "independent", "y": "independent"}},
      "layer": [
        {
          "data": {"name": "modB"},
          "resolve": {"axis": {"x": "independent", "y": "independent"}},
          "layer": [
            {"mark": {"type": "line", "color": "#0000ff", "strokeWidth": 1},
             "encoding": {
               "x": {"field": "T", "type": "quantitative", "scale": {"domain": [9, 190], "nice": false, "zero": false},
                     "axis": {"orient": "top", "title": null, "labels": false, "domain": false, "values": [10,20,30,40,50,60,70,80,90,100,110,120,130,140,150,160,170,180,190], "tickSize": -4}},
               "y": {"field": "value", "type": "quantitative", "scale": {"domain": [50, 160], "nice": false, "zero": false},
                     "axis": {"orient": "right", "title": "Modulus (MPa)", "values": [60,80,100,120,140,160],
                              "tickSize": 5, "labelPadding": 4, "titlePadding": 10, "titleAngle": 270, "titleBaseline": "top",
                              "domainColor": "#0000ff", "tickColor": "#0000ff", "labelColor": "#2a2aff", "titleColor": "#2a2aff"}}
             }},
            {"mark": {"type": "point", "shape": "square", "filled": true, "size": 36, "opacity": 1, "strokeWidth": 1},
             "encoding": {
               "x": {"field": "T", "type": "quantitative", "scale": {"domain": [9, 190], "nice": false, "zero": false}, "axis": null},
               "y": {"field": "value", "type": "quantitative", "scale": {"domain": [50, 160], "nice": false, "zero": false},
                     "axis": {"orient": "right", "title": null, "labels": false, "domain": false, "values": [50,70,90,110,130,150], "tickSize": 3, "tickColor": "#0000ff"}},
               "fill": {"field": "series", "type": "nominal", "scale": {"domain": ["Tan Delta", "Módulo (MPa)"], "range": ["#000000", "#0000ff"]}},
               "stroke": {"field": "series", "type": "nominal", "scale": {"domain": ["Tan Delta", "Módulo (MPa)"], "range": ["#444444", "#0000ff"]}}
             }}
          ]
        },
        {
          "resolve": {"axis": {"x": "independent", "y": "independent"}},
          "layer": [
            {"data": {"name": "tdB"},
             "mark": {"type": "line", "color": "#555555", "strokeWidth": 0.8},
             "encoding": {
               "x": {"field": "T", "type": "quantitative", "scale": {"domain": [9, 190], "nice": false, "zero": false},
                     "axis": {"orient": "bottom", "title": "Temperature (ºC)", "values": [20,40,60,80,100,120,140,160,180], "tickSize": 5, "labelPadding": 5, "titlePadding": 13}},
               "y": {"field": "value", "type": "quantitative", "scale": {"domain": [-0.0094, 0.1703], "nice": false, "zero": false},
                     "axis": {"orient": "left", "title": "Tan Delta", "values": [0,0.02,0.04,0.06,0.08,0.1,0.12,0.14,0.16], "format": ".2f", "tickSize": 5, "labelPadding": 3, "titlePadding": 10}}
             }},
            {"data": {"name": "tdB"},
             "mark": {"type": "point", "shape": "square", "filled": true, "size": 36, "opacity": 1, "strokeWidth": 1},
             "encoding": {
               "x": {"field": "T", "type": "quantitative", "scale": {"domain": [9, 190], "nice": false, "zero": false},
                     "axis": {"orient": "bottom", "title": null, "labels": false, "domain": false, "values": [10,30,50,70,90,110,130,150,170,190], "tickSize": 3}},
               "y": {"field": "value", "type": "quantitative", "scale": {"domain": [-0.0094, 0.1703], "nice": false, "zero": false},
                     "axis": {"orient": "left", "title": null, "labels": false, "domain": false, "values": [0.01,0.03,0.05,0.07,0.09,0.11,0.13,0.15,0.17], "tickSize": 3}},
               "fill": {"field": "series", "type": "nominal", "scale": {"domain": ["Tan Delta", "Módulo (MPa)"], "range": ["#000000", "#0000ff"]}},
               "stroke": {"field": "series", "type": "nominal", "scale": {"domain": ["Tan Delta", "Módulo (MPa)"], "range": ["#444444", "#0000ff"]}}
             }},
            {"data": {"values": [{"label": "HT2", "T": 98.6, "value": 0.159}]},
             "mark": {"type": "text", "font": "Liberation Sans", "fontSize": 15, "color": "#000000", "align": "center", "baseline": "middle"},
             "encoding": {
               "x": {"field": "T", "type": "quantitative", "scale": {"domain": [9, 190], "nice": false, "zero": false}, "axis": null},
               "y": {"field": "value", "type": "quantitative", "scale": {"domain": [-0.0094, 0.1703], "nice": false, "zero": false}, "axis": null},
               "text": {"field": "label"}
             }}
          ]
        }
      ]
    }
  ]
}
